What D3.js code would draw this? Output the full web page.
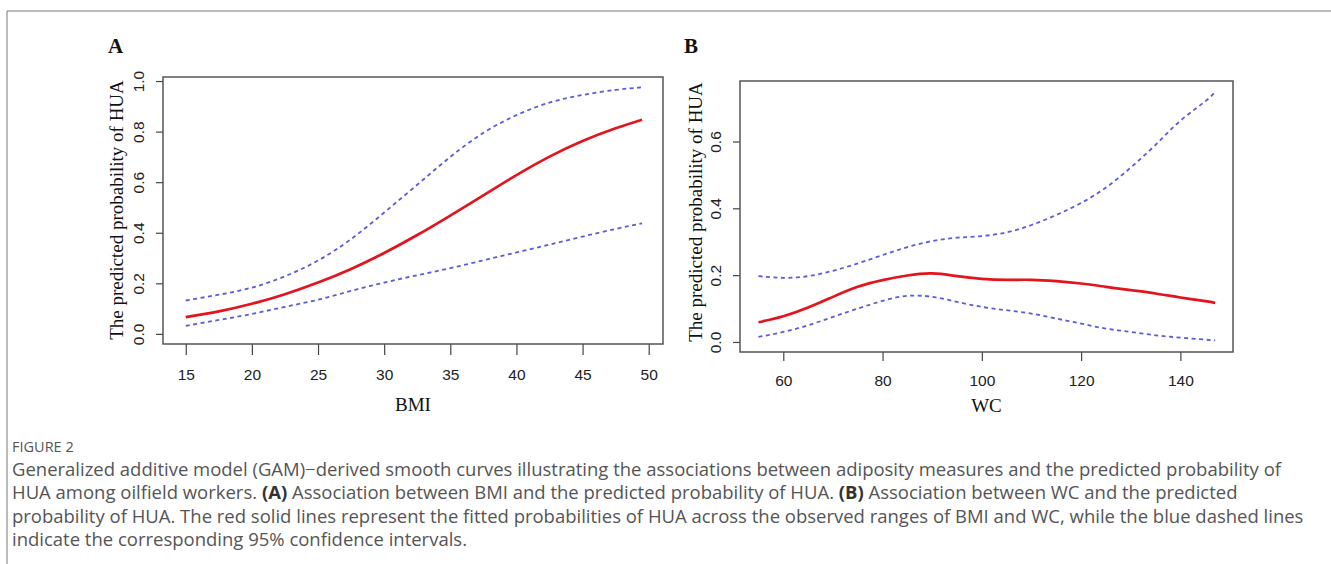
<!DOCTYPE html>
<html>
<head>
<meta charset="utf-8">
<script src="https://cdn.jsdelivr.net/npm/d3@7"></script>
<style>
  body { margin: 0; background: #fff; }
  svg { display: block; }
</style>
</head>
<body>
<div id="chart"></div>
<script>
// Panel A: BMI
const bmi = [15, 17.5, 20, 22.5, 25, 27.5, 30, 32.5, 35, 37.5, 40, 42.5, 45, 47.5, 49.5];
const bmiFit = [0.066, 0.089, 0.119, 0.157, 0.203, 0.257, 0.320, 0.391, 0.468, 0.548, 0.628, 0.701, 0.763, 0.813, 0.847];
const bmiUpper = [0.132, 0.155, 0.183, 0.228, 0.29, 0.375, 0.48, 0.59, 0.70, 0.795, 0.865, 0.915, 0.945, 0.965, 0.975];
const bmiLower = [0.032, 0.055, 0.079, 0.107, 0.135, 0.17, 0.203, 0.232, 0.26, 0.291, 0.322, 0.353, 0.385, 0.415, 0.437];
const bmiTicks = [15, 20, 25, 30, 35, 40, 45, 50];
const bmiYTicks = [0, 0.2, 0.4, 0.6, 0.8, 1.0];

// Panel B: WC
const wc = [55, 60, 65, 70, 75, 80, 85, 90, 95, 100, 105, 110, 115, 120, 125, 130, 135, 140, 145, 147];
const wcFit = [0.059, 0.077, 0.103, 0.135, 0.165, 0.185, 0.199, 0.205, 0.197, 0.189, 0.186, 0.186, 0.182, 0.175, 0.165, 0.155, 0.145, 0.133, 0.122, 0.117];
const wcUpper = [0.197, 0.192, 0.197, 0.213, 0.235, 0.26, 0.284, 0.302, 0.312, 0.317, 0.328, 0.35, 0.38, 0.416, 0.462, 0.522, 0.59, 0.662, 0.72, 0.749];
const wcLower = [0.015, 0.03, 0.05, 0.075, 0.1, 0.123, 0.138, 0.135, 0.12, 0.105, 0.095, 0.085, 0.07, 0.055, 0.04, 0.03, 0.02, 0.013, 0.007, 0.005];
const wcTicks = [60, 80, 100, 120, 140];
const wcYTicks = [0, 0.2, 0.4, 0.6];

const captionLines = [
  [{t: "Generalized additive model (GAM)\u2212derived smooth curves illustrating the associations between adiposity measures and the predicted probability of"}],
  [{t: "HUA among oilfield workers. "}, {t: "(A)", b: true}, {t: " Association between BMI and the predicted probability of HUA. "}, {t: "(B)", b: true}, {t: " Association between WC and the predicted"}],
  [{t: "probability of HUA. The red solid lines represent the fitted probabilities of HUA across the observed ranges of BMI and WC, while the blue dashed lines"}],
  [{t: "indicate the corresponding 95% confidence intervals."}]
];

const W = 1331, H = 564;
const svg = d3.select("#chart").append("svg").attr("width", W).attr("height", H);

// outer frame (top and left rules)
svg.append("line").attr("x1", 7).attr("x2", W).attr("y1", 11).attr("y2", 11)
  .attr("stroke", "#777").attr("stroke-width", 1);
svg.append("line").attr("x1", 7).attr("x2", 7).attr("y1", 11).attr("y2", H)
  .attr("stroke", "#777").attr("stroke-width", 1);

function panel(opt) {
  const x = d3.scaleLinear().domain(opt.xDomain).range([opt.left, opt.right]);
  const y = d3.scaleLinear().domain(opt.yDomain).range([opt.bottom, opt.top]);
  const g = svg.append("g");

  g.append("text").attr("x", opt.labelX).attr("y", 53)
    .attr("font-family", "Liberation Serif, Times New Roman, serif")
    .attr("font-weight", "bold").attr("font-size", 21).attr("fill", "#111")
    .text(opt.label);

  const xAxis = g.append("g").attr("transform", `translate(0,${opt.bottom})`)
    .call(d3.axisBottom(x).tickValues(opt.xTicks).tickSize(opt.tickLen).tickSizeOuter(0).tickPadding(opt.xPad));
  const yAxis = g.append("g").attr("transform", `translate(${opt.left},0)`)
    .call(d3.axisLeft(y).tickValues(opt.yTicks).tickSize(7).tickSizeOuter(0)
      .tickFormat(d3.format(".1f")));
  [xAxis, yAxis].forEach(a => {
    a.select(".domain").remove();
    a.selectAll(".tick line").attr("stroke", "#444").attr("stroke-width", 1.2);
    a.selectAll("text").attr("font-family", "Liberation Sans, Arial, sans-serif")
      .attr("font-size", 15.5).attr("fill", "#222");
  });
  yAxis.selectAll(".tick text")
    .attr("transform", "rotate(-90,-24,0)")
    .attr("x", -24).attr("dy", "0.35em").attr("text-anchor", "middle");

  // y title
  g.append("text")
    .attr("transform", `translate(${opt.yTitleX},${opt.yTitleY}) rotate(-90)`)
    .attr("text-anchor", "middle").attr("dy", "0.35em")
    .attr("font-family", "Liberation Serif, Times New Roman, serif")
    .attr("font-size", 19).attr("fill", "#111")
    .text("The predicted probability of HUA");
  // x title
  g.append("text").attr("x", (opt.left + opt.right) / 2).attr("y", opt.xTitleY)
    .attr("text-anchor", "middle").attr("dy", "0.35em")
    .attr("font-family", "Liberation Serif, Times New Roman, serif")
    .attr("font-size", 19).attr("fill", "#111")
    .text(opt.xTitle);

  const line = (ys) => d3.line()
    .x((d, i) => x(opt.xs[i]))
    .y(d => y(d))
    .curve(d3.curveNatural)(ys);

  [opt.upper, opt.lower].forEach(ys => {
    g.append("path").attr("d", line(ys)).attr("fill", "none")
      .attr("stroke", "#5b5bdc").attr("stroke-width", 1.8)
      .attr("stroke-dasharray", "4,3.5");
  });
  g.append("path").attr("d", line(opt.fit)).attr("fill", "none")
    .attr("stroke", "#e3141b").attr("stroke-width", 2.7);

  g.append("rect").attr("x", opt.left).attr("y", opt.top)
    .attr("width", opt.right - opt.left).attr("height", opt.bottom - opt.top)
    .attr("fill", "none").attr("stroke", "#555").attr("stroke-width", 1.5);
}

panel({
  label: "A", labelX: 108, xTitle: "BMI",
  left: 163, right: 663, top: 77, bottom: 344,
  xDomain: [13.28, 51.08], yDomain: [-0.04, 1.016],
  xs: bmi, fit: bmiFit, upper: bmiUpper, lower: bmiLower,
  xTicks: bmiTicks, yTicks: bmiYTicks, tickLen: 11, xPad: 14,
  yTitleX: 116, yTitleY: 210, xTitleY: 404
});

panel({
  label: "B", labelX: 684, xTitle: "WC",
  left: 740, right: 1233, top: 81, bottom: 352,
  xDomain: [51.28, 150.6], yDomain: [-0.03, 0.781],
  xs: wc, fit: wcFit, upper: wcUpper, lower: wcLower,
  xTicks: wcTicks, yTicks: wcYTicks, tickLen: 9, xPad: 14,
  yTitleX: 695, yTitleY: 212, xTitleY: 405
});

// caption
svg.append("text").attr("x", 12).attr("y", 452)
  .attr("font-family", "Open Sans, Lato, sans-serif").attr("font-size", 14.5)
  .attr("fill", "#555").text("FIGURE 2");

const cap = svg.append("text")
  .attr("font-family", "Open Sans, Lato, sans-serif").attr("font-size", 17)
  .attr("fill", "#555");
captionLines.forEach((ln, i) => {
  ln.forEach((seg, j) => {
    const ts = cap.append("tspan").text(seg.t);
    if (j === 0) ts.attr("x", 12).attr("y", 476 + i * 23.3);
    if (seg.b) ts.attr("font-weight", "bold").attr("fill", "#333");
  });
});
// fit the first caption line to the reference width
const first = cap.select("tspan").node();
const w0 = first.getComputedTextLength();
cap.attr("font-size", 17 * 1270 / w0);
</script>
</body>
</html>
